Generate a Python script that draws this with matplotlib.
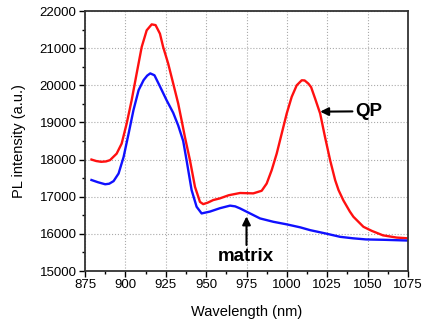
import numpy as np
import matplotlib.pyplot as plt
from matplotlib.ticker import MultipleLocator

plt.rcParams['font.family'] = ['Liberation Sans', 'DejaVu Sans']

# QP sample (red)
qp_wl = [879, 882, 885, 888, 890.5, 894.6, 897.7, 900.8, 903.9, 907, 910.1, 913.2,
         916.3, 918.7, 921.4, 923.4, 926.5, 929.6, 932.7, 934.8, 936.9, 940, 943.1,
         946.2, 948.2, 951, 954.4, 958.5, 964, 971, 979.2, 984.4, 987.5, 990.6, 993.7,
         996.8, 999.9, 1003, 1006.1, 1009.2, 1011, 1013.3, 1015, 1017.5, 1020.6,
         1023.6, 1026.8, 1029.9, 1032, 1035, 1039, 1041.2, 1047.4, 1052.6, 1059.5,
         1068, 1075]
qp_pl = [18000, 17960, 17940, 17950, 17985, 18160, 18430, 18970, 19600, 20320, 21030,
         21480, 21640, 21620, 21390, 21030, 20585, 20050, 19510, 19060, 18600, 17980,
         17265, 16860, 16800, 16840, 16910, 16955, 17040, 17100, 17090, 17160, 17355,
         17715, 18160, 18700, 19240, 19690, 20000, 20135, 20130, 20045, 19950, 19640,
         19240, 18610, 17980, 17445, 17177, 16900, 16600, 16460, 16190, 16080, 15960,
         15900, 15880]

# matrix (blue)
mx_wl = [879, 883, 887.5, 890, 892.7, 895.8, 898.9, 902, 905, 908.2, 911.3, 913.5,
         915.4, 918, 921.3, 925.5, 929.6, 932.7, 935.8, 937.9, 941, 944.1, 947.2,
         952.4, 958.5, 964.8, 968, 971, 977.2, 983.4, 991.6, 1000, 1008.3, 1014.4,
         1024, 1033, 1041, 1049, 1060, 1075]
mx_pl = [17450, 17390, 17335, 17350, 17420, 17625, 18070, 18700, 19330, 19870, 20140,
         20260, 20320, 20270, 19980, 19600, 19260, 18920, 18500, 17980, 17180, 16730,
         16550, 16600, 16690, 16760, 16740, 16685, 16550, 16415, 16325, 16255, 16175,
         16100, 16010, 15920, 15880, 15850, 15840, 15820]

x_ticks = [875, 900, 925, 950, 975, 1000, 1025, 1050, 1075]
y_ticks = [15000, 16000, 17000, 18000, 19000, 20000, 21000, 22000]

fig = plt.figure(figsize=(4.23, 3.24), dpi=100)
ax = fig.add_axes([85 / 423, 1 - 271 / 324, 323 / 423, 260 / 324])

ax.plot(qp_wl, qp_pl, color='#ff1010', lw=1.7)
ax.plot(mx_wl, mx_pl, color='#1010ff', lw=1.7)

ax.set_xlim(875, 1075)
ax.set_ylim(15000, 22000)
ax.set_xticks(x_ticks)
ax.set_yticks(y_ticks)
ax.xaxis.set_minor_locator(MultipleLocator(12.5))
ax.yaxis.set_minor_locator(MultipleLocator(500))
ax.tick_params(which='major', length=4, width=1, labelsize=9.5, pad=2)
ax.tick_params(which='minor', length=2.5, width=1)
ax.grid(True, which='major', color='#aaaaaa', linestyle=':', linewidth=0.8)
for s in ax.spines.values():
    s.set_linewidth(1.3)
    s.set_color('#333333')

ax.set_xlabel('Wavelength (nm)', fontsize=10.5, labelpad=10)
ax.set_ylabel('PL intensity (a.u.)', fontsize=10.5, labelpad=10)

ax.annotate('QP', xy=(1020.6, 19290), xytext=(1042.3, 19300),
            fontsize=13.5, fontweight='bold', va='center', ha='left',
            arrowprops=dict(arrowstyle='-|>', color='black', lw=1.5,
                            mutation_scale=12, shrinkA=0, shrinkB=0))
ax.annotate('', xy=(975, 16470), xytext=(975, 15700),
            arrowprops=dict(arrowstyle='-|>', color='black', lw=1.5,
                            mutation_scale=12, shrinkA=0, shrinkB=0))
ax.text(974.5, 15385, 'matrix', fontsize=13.5, fontweight='bold',
        va='center', ha='center')

fig.savefig('out.png', dpi=100)
